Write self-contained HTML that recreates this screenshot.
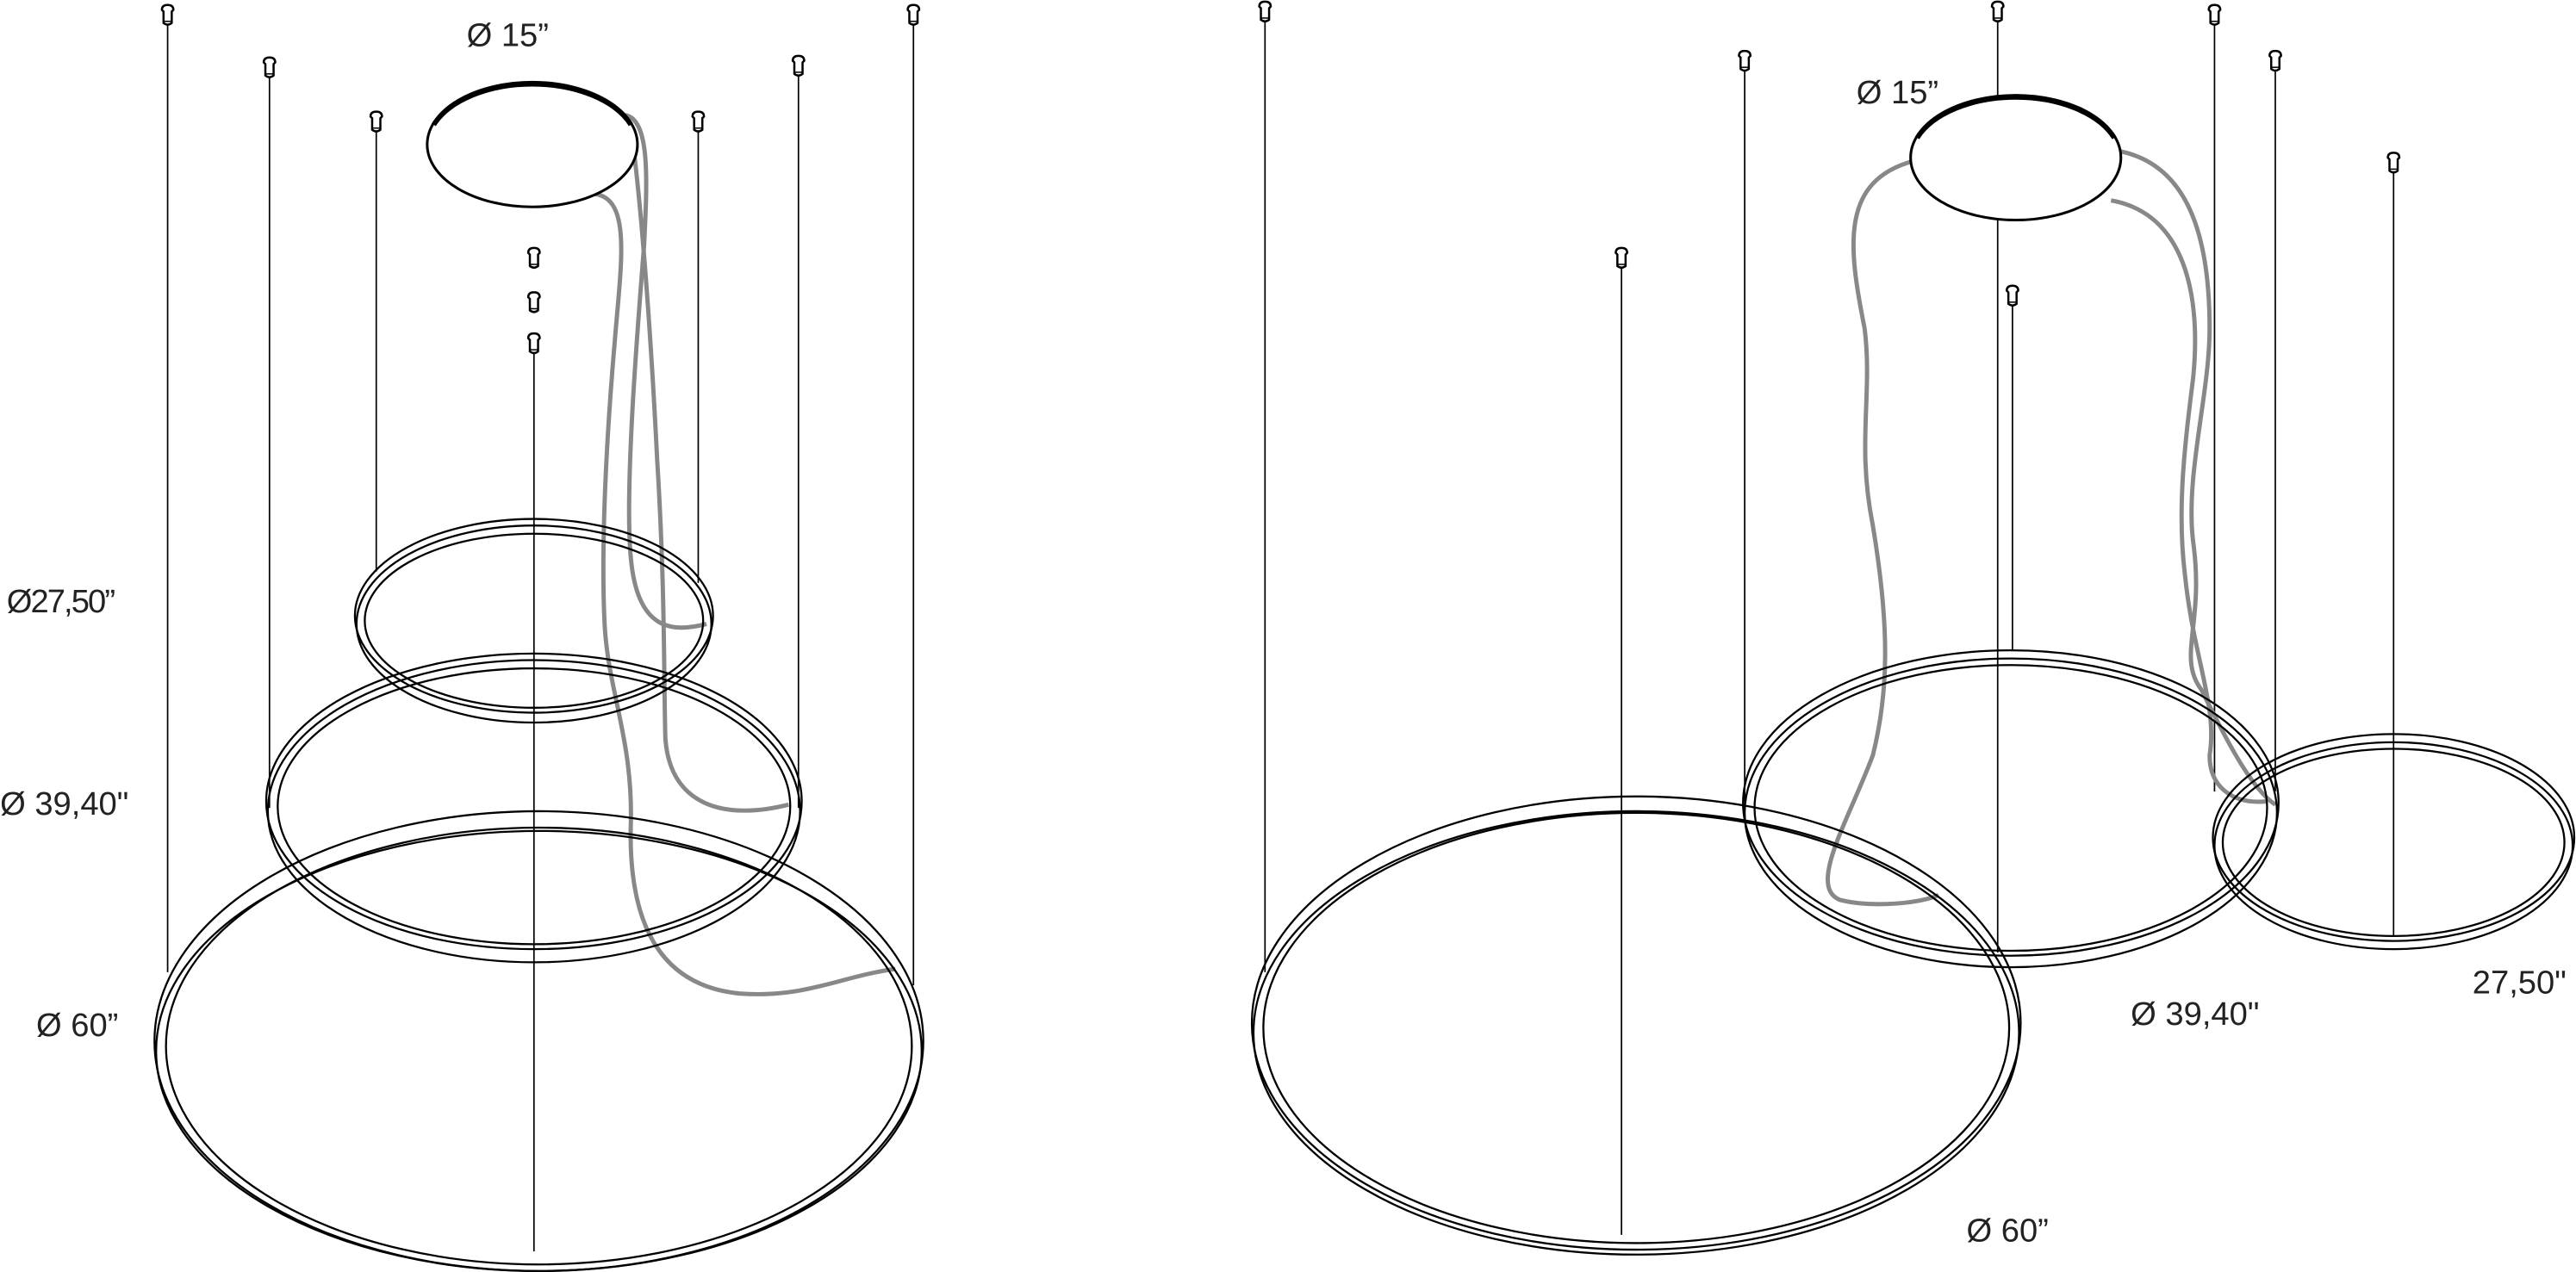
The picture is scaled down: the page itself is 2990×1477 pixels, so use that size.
<!DOCTYPE html>
<html><head><meta charset="utf-8"><style>
html,body{margin:0;padding:0;background:#fff;}
svg{display:block;}
text{font-family:"Liberation Sans",sans-serif;font-size:20px;fill:#222;}
</style></head><body>
<svg width="2990" height="1477" viewBox="0 0 1568 774.6" xmlns="http://www.w3.org/2000/svg">
<defs>
<g id="hk"><path d="M-3.5,-6 Q-3.5,-9 0,-9 Q3.5,-9 3.5,-6 L2.5,-5 L2.5,2 Q0,4 -2.5,2 L-2.5,-5 Z" fill="#fff" stroke="#000" stroke-width="1.3"/><line x1="-2.5" y1="1" x2="2.5" y2="1" stroke="#000" stroke-width="0.8"/></g>
</defs>
<g fill="none" stroke="#000" stroke-width="0.9">
<line x1="102" y1="12" x2="102" y2="592"/>
<line x1="164" y1="43" x2="164" y2="492"/>
<line x1="229" y1="76" x2="229" y2="348"/>
<line x1="425" y1="76" x2="425" y2="355"/>
<line x1="486" y1="43" x2="486" y2="492"/>
<line x1="556" y1="12" x2="556" y2="600"/>
<line x1="325" y1="212" x2="325" y2="762"/>
<line x1="770" y1="12" x2="770" y2="592"/>
<line x1="987" y1="160" x2="987" y2="752"/>
<line x1="1062" y1="40" x2="1062" y2="500"/>
<line x1="1216" y1="12" x2="1216" y2="580"/>
<line x1="1225" y1="183" x2="1225" y2="396"/>
<line x1="1348" y1="12" x2="1348" y2="482"/>
<line x1="1385" y1="40" x2="1385" y2="482"/>
<line x1="1457" y1="100" x2="1457" y2="570"/>
</g>
<g>
<use href="#hk" x="102" y="12"/><use href="#hk" x="164" y="44"/><use href="#hk" x="229" y="77"/>
<use href="#hk" x="425" y="77"/><use href="#hk" x="486" y="43"/><use href="#hk" x="556" y="12"/>
<use href="#hk" x="325" y="160"/><use href="#hk" x="325" y="187"/><use href="#hk" x="325" y="212"/>
<use href="#hk" x="770" y="10"/><use href="#hk" x="987" y="160"/><use href="#hk" x="1062" y="40"/>
<use href="#hk" x="1216" y="10"/><use href="#hk" x="1225" y="183"/><use href="#hk" x="1348" y="12"/>
<use href="#hk" x="1385" y="40"/><use href="#hk" x="1457" y="102"/>
</g>
<g fill="none" stroke="#888" stroke-width="2.6">
<path d="M361,118 C385,120 378,160 374,210 C368,280 366,340 368,380 C370,420 385,450 384,500 C382,560 400,600 450,605 C490,608 510,595 545,590"/>
<path d="M380,70 C396,72 394,110 392,150 C388,200 380,300 384,340 C388,385 410,385 430,380"/>
<path d="M384,78 C390,120 396,200 400,280 C405,360 404,420 405,450 C408,490 440,500 480,490"/>
</g>
<g fill="none" stroke="#888" stroke-width="2.6">
<path d="M1165,98 C1120,110 1125,150 1135,200 C1140,240 1130,270 1140,320 C1150,380 1150,420 1140,460 C1125,500 1100,540 1120,548 C1140,553 1170,550 1180,545"/>
<path d="M1290,92 C1330,100 1345,140 1345,200 C1345,240 1330,290 1335,330 C1342,380 1325,400 1340,420 C1355,450 1370,480 1385,490"/>
<path d="M1285,122 C1330,130 1340,180 1335,230 C1330,270 1325,310 1330,350 C1335,400 1350,430 1345,460 C1345,480 1360,490 1380,488"/>
</g>
<g fill="#fff" stroke="#000" stroke-width="1.6">
<ellipse cx="324" cy="88" rx="64" ry="38"/>
<path d="M264,76 A64,38 0 0 1 384,76" fill="none" stroke-width="3"/>
<ellipse cx="1227" cy="96" rx="64" ry="38"/>
<path d="M1167,84 A64,38 0 0 1 1287,84" fill="none" stroke-width="3"/>
</g>
<g fill="none" stroke="#000" stroke-width="1.2">
<ellipse cx="325" cy="375" rx="109" ry="59"/><ellipse cx="325" cy="378" rx="103" ry="53"/><ellipse cx="325" cy="380" rx="108" ry="60"/>
<ellipse cx="325" cy="488" rx="163" ry="90"/><ellipse cx="325" cy="491" rx="156" ry="84"/><ellipse cx="325" cy="494" rx="162" ry="92"/>
<ellipse cx="328" cy="634" rx="234" ry="140"/><ellipse cx="328" cy="637" rx="227" ry="133"/><ellipse cx="328" cy="640" rx="233" ry="134"/>
<ellipse cx="1224" cy="489" rx="163" ry="93"/><ellipse cx="1224" cy="492" rx="156" ry="87"/><ellipse cx="1224" cy="495" rx="162" ry="94"/>
<ellipse cx="1457" cy="510" rx="110" ry="63"/><ellipse cx="1457" cy="513" rx="104" ry="57"/><ellipse cx="1457" cy="515" rx="109" ry="63"/>
<ellipse cx="996" cy="623" rx="234" ry="138"/><ellipse cx="996" cy="626" rx="227" ry="131"/><ellipse cx="996" cy="629" rx="233" ry="135"/>
</g>
<text x="284" y="28">Ø 15”</text>
<text x="4" y="373" style="letter-spacing:-1px">Ø27,50”</text>
<text x="0" y="496">Ø 39,40"</text>
<text x="22" y="631">Ø 60”</text>
<text x="1130" y="63">Ø 15”</text>
<text x="1297" y="624">Ø 39,40"</text>
<text x="1505" y="605">27,50"</text>
<text x="1197" y="756">Ø 60”</text>
</svg>
</body></html>
